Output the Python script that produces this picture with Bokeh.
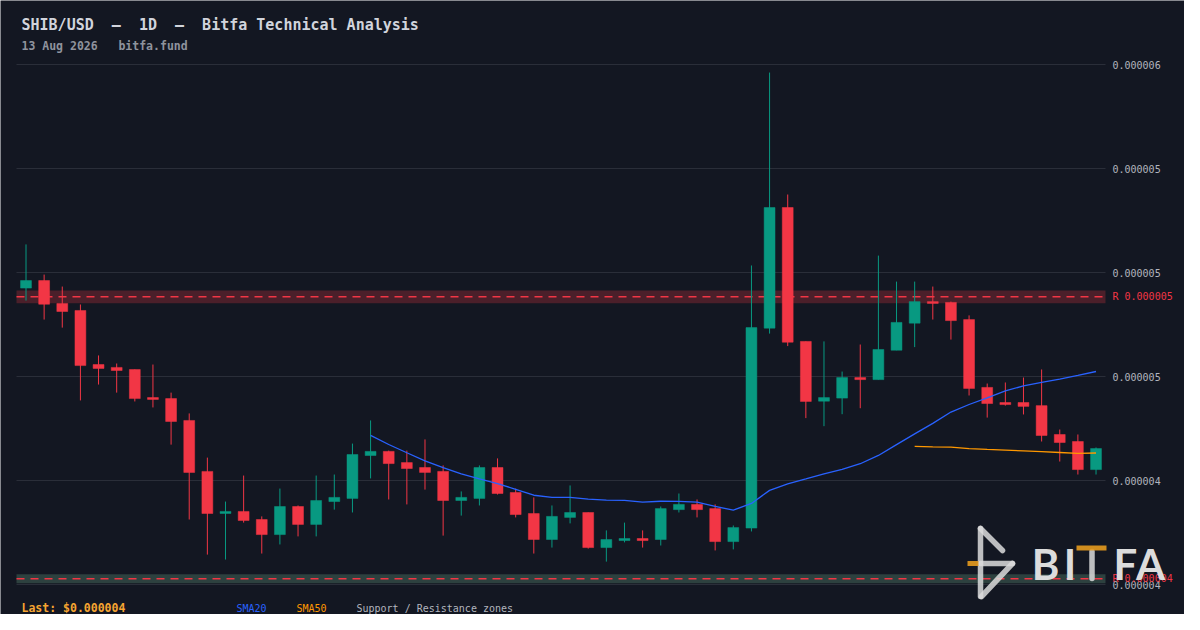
import numpy as np
import pandas as pd
from bokeh.plotting import figure
from bokeh.models import ColumnDataSource, Range1d, BoxAnnotation, Label
from bokeh.core.properties import value
from bokeh.embed import file_html
from bokeh.resources import INLINE

# ---------------- data (prices in millionths of USD) ----------------
PRICE_UNIT = 1e-6

open_ = [4.940, 4.969, 4.881, 4.854, 4.646, 4.635, 4.627, 4.519, 4.515, 4.431,
         4.235, 4.073, 4.081, 4.050, 3.992, 4.100, 4.031, 4.119, 4.131, 4.296,
         4.312, 4.269, 4.250, 4.235, 4.123, 4.131, 4.250, 4.154, 4.073, 3.973,
         4.058, 4.077, 3.942, 3.969, 3.977, 3.973, 4.088, 4.108, 4.092, 3.965,
         4.017, 4.786, 5.250, 4.735, 4.505, 4.517, 4.596, 4.588, 4.701, 4.805,
         4.888, 4.885, 4.819, 4.558, 4.500, 4.500, 4.488, 4.377, 4.350, 4.242]

high = [5.108, 4.992, 4.946, 4.877, 4.681, 4.650, 4.627, 4.646, 4.538, 4.458,
        4.288, 4.119, 4.219, 4.062, 4.169, 4.104, 4.219, 4.223, 4.342, 4.431,
        4.315, 4.315, 4.358, 4.258, 4.158, 4.258, 4.285, 4.169, 4.135, 4.104,
        4.181, 4.077, 4.008, 4.038, 4.008, 4.100, 4.150, 4.127, 4.108, 4.027,
        5.027, 5.769, 5.300, 4.735, 4.735, 4.619, 4.723, 5.065, 4.965, 4.965,
        4.946, 4.888, 4.835, 4.573, 4.577, 4.596, 4.627, 4.396, 4.377, 4.327]

low = [4.892, 4.819, 4.788, 4.508, 4.569, 4.538, 4.504, 4.481, 4.338, 4.050,
       3.915, 3.896, 4.038, 3.919, 3.954, 3.985, 3.985, 4.088, 4.077, 4.208,
       4.127, 4.108, 4.165, 3.988, 4.065, 4.104, 4.146, 4.058, 3.919, 3.942,
       4.035, 3.938, 3.888, 3.962, 3.942, 3.950, 4.077, 4.058, 3.931, 3.935,
       4.004, 4.765, 4.717, 4.440, 4.409, 4.455, 4.478, 4.588, 4.701, 4.713,
       4.819, 4.742, 4.527, 4.442, 4.488, 4.454, 4.350, 4.273, 4.223, 4.223]

close = [4.969, 4.878, 4.850, 4.642, 4.631, 4.623, 4.515, 4.512, 4.427, 4.231,
         4.073, 4.081, 4.046, 3.992, 4.100, 4.031, 4.123, 4.135, 4.300, 4.312,
         4.265, 4.246, 4.231, 4.123, 4.135, 4.250, 4.150, 4.069, 3.973, 4.062,
         4.077, 3.942, 3.973, 3.977, 3.969, 4.092, 4.108, 4.088, 3.965, 4.019,
         4.788, 5.250, 4.732, 4.504, 4.519, 4.596, 4.588, 4.704, 4.808, 4.888,
         4.881, 4.815, 4.554, 4.496, 4.492, 4.485, 4.373, 4.346, 4.242, 4.323]

y_ticks = [3.8, 4.2, 4.6, 5.0, 5.4, 5.8]

zone_kind = ["R", "R"]
zone_level = [4.907, 3.822]
zone_low = [4.882, 3.805]
zone_high = [4.931, 3.839]

SYMBOL = "SHIB/USD"
TIMEFRAME = "1D"
DATE_TEXT = "13 Aug 2026"
SITE = "bitfa.fund"

# ---------------- styling ----------------
BG = "#131722"
GRID = "#2a2e39"
UP = "#089981"
DOWN = "#f23645"
SMA20_C = "#2962ff"
SMA50_C = "#ff9800"
MONO = "DejaVu Sans Mono"
NB = "\u00a0"

W, H = 1184, 614
# the frame fills the whole canvas; pixel <-> data mapping
BAR0_PX, PX_PER_BAR = 25.5, 18.136
Y_REF_PX, Y_REF_VAL, PX_PER_UNIT = 584.0, 3.8, 260.0
PLOT_L, PLOT_R = 16, 1105


def px2x(px):
    return (px - BAR0_PX) / PX_PER_BAR


def py2y(py):
    return Y_REF_VAL + (Y_REF_PX - py) / PX_PER_UNIT


n = len(close)
idx = np.arange(n)
o = np.array(open_)
c = np.array(close)
is_up = c >= o
colors = [UP if u else DOWN for u in is_up]

src = ColumnDataSource(dict(
    x=idx, open=o, close=c, high=np.array(high), low=np.array(low),
    top=np.maximum(o, c), bottom=np.minimum(o, c), color=colors))

sma20 = pd.Series(close).rolling(20).mean().to_numpy()
sma50 = pd.Series(close).rolling(50).mean().to_numpy()

p = figure(width=W, height=H, output_backend="svg", toolbar_location=None, tools="",
           x_range=Range1d(px2x(0), px2x(W)), y_range=Range1d(py2y(H), py2y(0)),
           x_axis_location=None, y_axis_location=None,
           min_border_left=0, min_border_right=0, min_border_top=0, min_border_bottom=0,
           background_fill_color=BG, border_fill_color=BG)
p.outline_line_color = None
p.title.visible = False
p.grid.visible = False

xl, xr = px2x(PLOT_L), px2x(PLOT_R)

# horizontal price grid + price labels (right side)
p.segment(x0=[xl] * len(y_ticks), x1=[xr] * len(y_ticks), y0=y_ticks, y1=y_ticks,
          line_color=GRID, line_width=1)
p.text(x=[px2x(1112)] * len(y_ticks), y=y_ticks,
       text=[f"{t * PRICE_UNIT:.6f}" for t in y_ticks],
       text_font=value(MONO), text_font_size="10px", text_color="#b2b5be",
       text_baseline="middle", text_align="left")

# support / resistance zones
zone_fill = ["#f23645", "#2d413f"]
zone_alpha = [0.25, 1.0]
for lo, hi, fc, fa in zip(zone_low, zone_high, zone_fill, zone_alpha):
    p.add_layout(BoxAnnotation(left=xl, right=xr, bottom=lo, top=hi, fill_color=fc,
                               fill_alpha=fa, line_color=None, level="underlay"))
p.segment(x0=[xl] * len(zone_level), x1=[xr] * len(zone_level), y0=zone_level,
          y1=zone_level, line_color=DOWN, line_width=1.5, line_dash="8 6")
p.text(x=[px2x(1112)] * len(zone_level), y=zone_level,
       text=[f"{k} {lv * PRICE_UNIT:.6f}" for k, lv in zip(zone_kind, zone_level)],
       text_font=value(MONO), text_font_size="10px", text_color=DOWN,
       text_baseline="middle", text_align="left")

# candles
p.segment(x0="x", y0="high", x1="x", y1="low", color="color", line_width=1, source=src)
p.vbar(x="x", width=0.6, top="top", bottom="bottom", fill_color="color",
       line_color="color", line_width=0.5, source=src)

# moving averages
p.line(idx, sma20, line_color=SMA20_C, line_width=1.3)
p.line(idx, sma50, line_color=SMA50_C, line_width=1.3)


def label(px, py, text, color, size, bold=False, font=MONO, align="left",
          baseline="middle", level="annotation"):
    lab = Label(x=px2x(px), y=py2y(py), text=text, text_color=color, text_font_size=size,
                text_font=font, text_font_style="bold" if bold else "normal",
                text_align=align, text_baseline=baseline)
    lab.level = level
    p.add_layout(lab)


sep = NB * 2 + "\u2013" + NB * 2
label(21, 24, SYMBOL + sep + TIMEFRAME + sep + "Bitfa Technical Analysis",
      "#d1d4dc", "15px", bold=True)
label(21, 45, DATE_TEXT + NB * 3 + SITE, "#8f939d", "11.5px", bold=True)

# bottom legend row
label(21, 607.5, f"Last: ${close[-1] * PRICE_UNIT:.6f}", "#f7a531", "11.5px", bold=True)
label(236, 607.5, "SMA20", SMA20_C, "10px")
label(296, 607.5, "SMA50", SMA50_C, "10px")
label(356, 607.5, "Support / Resistance zones", "#b2b5be", "10px")

# watermark logo
LOGO = "#dcdcdc"
LOGO_A = 0.85
seg_px = [((980, 528), (980, 596)), ((980, 528), (1002, 550)),
          ((980, 563), (1012, 563)), ((1012, 563), (981, 596)),
          ((1091.5, 551), (1091.5, 578))]
p.segment(x0=[px2x(a[0]) for a, b in seg_px], y0=[py2y(a[1]) for a, b in seg_px],
          x1=[px2x(b[0]) for a, b in seg_px], y1=[py2y(b[1]) for a, b in seg_px],
          line_color=LOGO, line_alpha=LOGO_A, line_width=5.5, line_cap="round",
          level="overlay")
p.segment(x0=[px2x(967), px2x(1076)], y0=[py2y(563), py2y(547.5)],
          x1=[px2x(978), px2x(1106)], y1=[py2y(563), py2y(547.5)],
          line_color="#e69a1e", line_alpha=0.9, line_width=5, level="overlay")
for ch, cx in zip(["B", "I", "F", "A"], [1045, 1069.5, 1125, 1150]):
    label(cx, 563, ch, LOGO, "42px", bold=True, font="Lato", align="center",
          level="overlay")

open("out.html", "w").write(file_html(p, INLINE))
